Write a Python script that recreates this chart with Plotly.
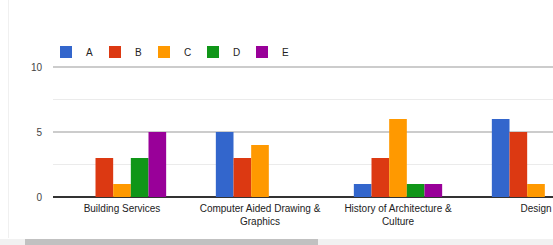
import plotly.graph_objects as go

categories = ["Building Services", "Computer Aided Drawing &<br>Graphics",
              "History of Architecture &<br>Culture", "Design"]
series_names = ["A", "B", "C", "D", "E"]
values_A = [0, 5, 1, 6]
values_B = [3, 3, 3, 5]
values_C = [1, 4, 6, 1]
values_D = [3, 0, 1, None]
values_E = [5, 0, 1, None]
colors = ["#3366cc", "#dc3912", "#ff9900", "#109618", "#990099"]
y_ticks = [0, 5, 10]

series_values = [values_A, values_B, values_C, values_D, values_E]

fig = go.Figure()
for name, vals, col in zip(series_names, series_values, colors):
    fig.add_trace(go.Bar(x=categories, y=vals, name=name, marker_color=col,
                         marker_line_width=0))

W, H = 553, 245
L, R, T, B = 53, 0, 30, 48
pw, ph = W - L - R, H - T - B
unit_px = 13.0          # pixels per y unit in the reference
y_top = ph / unit_px

def px_x(p):
    return (p - L) / pw

def px_y(p):
    return (H - B - p) / ph

shapes = [
    # faint left border
    dict(type="line", xref="paper", yref="paper", x0=px_x(8.5), x1=px_x(8.5),
         y0=px_y(0), y1=px_y(238), line=dict(color="#f0f0f0", width=1)),
    # scrollbar track
    dict(type="rect", xref="paper", yref="paper", x0=px_x(0), x1=px_x(553),
         y0=px_y(239), y1=px_y(246), fillcolor="#f1f1f1", line_width=0, layer="above"),
    # scrollbar thumb
    dict(type="rect", xref="paper", yref="paper", x0=px_x(25), x1=px_x(318),
         y0=px_y(239), y1=px_y(246), fillcolor="#c1c1c1", line_width=0, layer="above"),
]

fig.update_layout(
    width=W, height=H,
    margin=dict(l=L, r=R, t=T, b=B, pad=0, autoexpand=False),
    paper_bgcolor="white", plot_bgcolor="white",
    barmode="group", bargap=0.36, bargroupgap=0,
    font=dict(family="Liberation Sans, Arial, sans-serif", size=10, color="#222"),
    legend=dict(orientation="h", x=px_x(46), y=px_y(52), xanchor="left", yanchor="middle",
                entrywidth=4, entrywidthmode="pixels", font=dict(size=10, color="#222"),
                itemclick=False, bgcolor="rgba(0,0,0,0)", tracegroupgap=0),
    xaxis=dict(range=[-0.5, -0.5 + pw / 138.0], showgrid=False, showline=False,
               ticks="", tickfont=dict(size=10, color="#222"), fixedrange=True,
               ticklabelstandoff=4, automargin=False),
    yaxis=dict(range=[0, y_top], tickvals=y_ticks, ticktext=[str(v) for v in y_ticks],
               showgrid=True, gridcolor="#cccccc", gridwidth=2,
               minor=dict(tickvals=[2.5, 7.5], showgrid=True, gridcolor="#ebebeb", gridwidth=1),
               zeroline=True, zerolinecolor="#333333", zerolinewidth=2,
               showline=False, ticks="", tickfont=dict(size=10, color="#444"),
               ticklabelstandoff=10, fixedrange=True, automargin=False),
    shapes=shapes,
)

fig.write_html("out.html", config={"displayModeBar": False},
               post_script="document.body.style.margin='0';document.body.style.overflow='hidden';")
